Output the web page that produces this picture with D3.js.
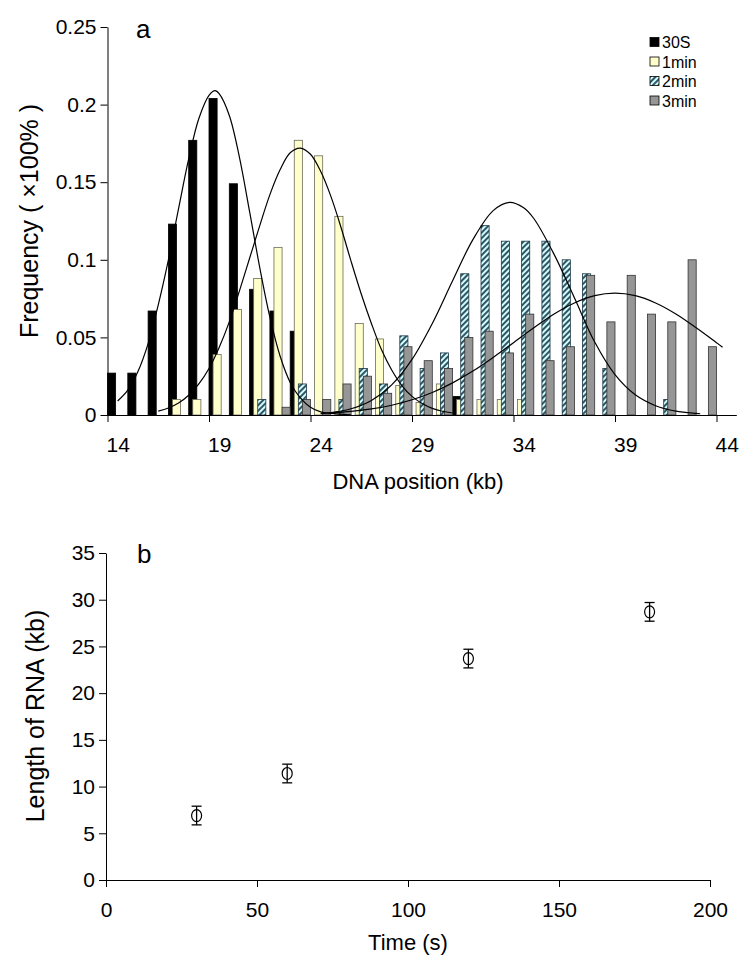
<!DOCTYPE html>
<html><head><meta charset="utf-8">
<script src="https://cdn.jsdelivr.net/npm/d3@7/dist/d3.min.js"></script>
<style>body{margin:0;background:#fff}</style>
</head><body>
<script>
// ---------- Panel a data ----------
const positions = [14,15,16,17,18,19,20,21,22,23,24,25,26,27,28,29,30,31,32,33,34,35,36,37,38,39,40,41,42,43,44];
const s30S = [0.027,0.027,0.067,0.123,0.177,0.204,0.149,0.081,0.067,0.054,0,0,0,0,0,0,0,0.012,0,0,0,0,0,0,0,0,0,0,0,0,0];
const s1min = [0,0,0,0.010,0.010,0.039,0.068,0.088,0.108,0.177,0.167,0.128,0.059,0.049,0.019,0.008,0.020,0.010,0.010,0.010,0.010,0,0,0,0,0,0,0,0,0,0];
const s2min = [0,0,0,0,0,0,0,0.010,0,0.020,0,0.010,0.030,0.020,0.051,0.030,0.040,0.091,0.122,0.112,0.112,0.112,0.100,0.091,0.030,0,0,0.010,0,0,0];
const s3min = [0,0,0,0,0,0,0,0,0.005,0.010,0.010,0.020,0.025,0.014,0.044,0.035,0.030,0.050,0.054,0.040,0.065,0.035,0.044,0.090,0.060,0.090,0.065,0.060,0.100,0.044,0];
const seriesNames = ["30S","1min","2min","3min"];
const xTicksA = [14,19,24,29,34,39,44];
const yTicksA = [0,0.05,0.1,0.15,0.2,0.25];

// fitted curves
const fit30S_x = [14.5,15,15.5,16,16.5,17,17.5,18,18.5,19,19.3,19.5,20,20.5,21,21.5,22,22.5,23,23.5,24,24.5,25,26];
const fit30S_y = [0.009,0.016,0.028,0.046,0.071,0.100,0.133,0.165,0.191,0.206,0.209,0.207,0.193,0.166,0.131,0.095,0.063,0.038,0.021,0.011,0.005,0.002,0.001,0.0];
const fit1_x = [16.5,17,17.5,18,18.5,19,19.5,20,20.5,21,21.5,22,22.5,23,23.5,24,24.5,25,25.5,26,26.5,27,27.5,28,28.5,29,29.5,30,30.5,31];
const fit1_y = [0.0025,0.0045,0.0077,0.0127,0.020,0.030,0.0435,0.060,0.080,0.101,0.122,0.142,0.158,0.169,0.172,0.168,0.157,0.141,0.121,0.099,0.078,0.059,0.042,0.029,0.019,0.012,0.0074,0.0043,0.0024,0.0013];
const fit2_x = [24.5,25,26,27,28,29,30,31,32,33,33.8,34.5,35,36,37,38,39,40,41,42,43,43.2];
const fit2_y = [0.0009,0.0015,0.004,0.0094,0.0194,0.0358,0.059,0.0865,0.113,0.1317,0.137,0.1335,0.1266,0.1035,0.0755,0.047,0.026,0.013,0.006,0.0025,0.001,0.0008];
const fit3_x = [25,26,27,28,29,30,31,32,33,34,35,36,37,38,39,40,41,42,43,44,44.3];
const fit3_y = [0.0013,0.0023,0.0039,0.0063,0.0098,0.0145,0.0207,0.0283,0.0371,0.0466,0.0562,0.0651,0.0722,0.0769,0.0785,0.0769,0.0722,0.0651,0.0562,0.0466,0.0437];

// ---------- Panel b data ----------
const times = [30,60,120,180];
const rnaLength = [6.9,11.4,23.7,28.7];
const rnaError = [1.0,1.0,1.0,1.0];
const xTicksB = [0,50,100,150,200];
const yTicksB = [0,5,10,15,20,25,30,35];

const W = 752, H = 966;
const FONT = "'Liberation Sans', Arial, sans-serif";
const svg = d3.select("body").append("svg").attr("width",W).attr("height",H)
  .style("font-family",FONT);

const defs = svg.append("defs");
const pat = defs.append("pattern").attr("id","hatch").attr("patternUnits","userSpaceOnUse")
  .attr("width",4).attr("height",4).attr("patternTransform","rotate(45)");
pat.append("rect").attr("width",4).attr("height",4).attr("fill","#ccffff");
pat.append("line").attr("x1",1).attr("y1",0).attr("x2",1).attr("y2",4)
  .attr("stroke","#1c3344").attr("stroke-width",1.7);

const fills = ["#000000","#ffffcc","url(#hatch)","#969696"];
const strokes = ["#000000","#6b6b5a","#1c3344","#333333"];

// ---------- Panel a ----------
const xBand = d3.scaleBand().domain(positions).range([107.5,736.8]).paddingInner(0).paddingOuter(0);
const xLin = d3.scaleLinear().domain([14,45]).range([107.5,736.8]);
const yA = d3.scaleLinear().domain([0,0.25]).range([415,27]);
const bw = xBand.bandwidth();
const allSeries = [s30S,s1min,s2min,s3min];

const gA = svg.append("g");
allSeries.forEach((ser,i)=>{
  gA.append("g").selectAll("rect").data(positions.map((p,j)=>({p,v:ser[j]})).filter(d=>d.v>0))
    .join("rect")
    .attr("x",d=>xBand(d.p)+i*bw*0.2)
    .attr("width",bw*0.4)
    .attr("y",d=>yA(d.v))
    .attr("height",d=>yA(0)-yA(d.v))
    .attr("fill",fills[i]).attr("stroke",strokes[i]).attr("stroke-width",0.8);
});

const line = d3.line().x(d=>xLin(d[0])).y(d=>yA(d[1])).curve(d3.curveCatmullRom);
[[fit30S_x,fit30S_y],[fit1_x,fit1_y],[fit2_x,fit2_y],[fit3_x,fit3_y]].forEach(([xs,ys])=>{
  gA.append("path").datum(xs.map((x,k)=>[x,ys[k]])).attr("d",line)
    .attr("fill","none").attr("stroke","#000").attr("stroke-width",1.2);
});

const axA_y = gA.append("g").attr("transform","translate(107.5,0)")
  .call(d3.axisLeft(yA).tickValues(yTicksA).tickSize(7).tickSizeOuter(0).tickFormat(d=>String(d)).tickPadding(4));
const axA_x = gA.append("g").attr("transform","translate(0,415)")
  .call(d3.axisBottom(xLin).tickValues(xTicksA).tickSize(7).tickSizeOuter(0).tickPadding(15));
axA_x.select(".domain").attr("d","M107.5,0.5H736.8");
axA_x.selectAll(".tick text").attr("x",bw/2);
[axA_y,axA_x].forEach(a=>{
  a.selectAll("text").style("font-size","21px").style("font-family",FONT).attr("fill","#000");
  a.selectAll("line,path").attr("stroke","#000");
});

gA.append("text").attr("x",136).attr("y",38).text("a").style("font-size","26px");
gA.append("text").attr("transform","translate(38,221) rotate(-90)").attr("text-anchor","middle")
  .text("Frequency ( \u00d7100% )").style("font-size","25px");
gA.append("text").attr("x",418).attr("y",489).attr("text-anchor","middle")
  .text("DNA position (kb)").style("font-size","22px");

// legend
const leg = gA.append("g").attr("transform","translate(650,42)");
seriesNames.forEach((n,i)=>{
  const r = leg.append("g").attr("transform",`translate(0,${i*19.5})`);
  r.append("rect").attr("x",0).attr("y",-4.5).attr("width",9).attr("height",9)
    .attr("fill",fills[i]).attr("stroke","#000").attr("stroke-width",0.8);
  r.append("text").attr("x",12).attr("y",6).text(n).style("font-size","16px");
});

// ---------- Panel b ----------
const xB = d3.scaleLinear().domain([0,200]).range([106,710]);
const yB = d3.scaleLinear().domain([0,35]).range([880,553]);
const gB = svg.append("g");
const axB_y = gB.append("g").attr("transform","translate(106,0)")
  .call(d3.axisLeft(yB).tickValues(yTicksB).tickSize(7).tickSizeOuter(0).tickPadding(4));
const axB_x = gB.append("g").attr("transform","translate(0,880)")
  .call(d3.axisBottom(xB).tickValues(xTicksB).tickSize(7).tickSizeOuter(0).tickPadding(15));
[axB_y,axB_x].forEach(a=>{
  a.selectAll("text").style("font-size","21px").style("font-family",FONT).attr("fill","#000");
  a.selectAll("line,path").attr("stroke","#000");
});

const pts = times.map((t,i)=>({t,v:rnaLength[i],e:rnaError[i]}));
const pg = gB.append("g").selectAll("g").data(pts).join("g");
pg.append("line").attr("x1",d=>xB(d.t)).attr("x2",d=>xB(d.t))
  .attr("y1",d=>yB(d.v-d.e)).attr("y2",d=>yB(d.v+d.e)).attr("stroke","#000").attr("stroke-width",1.3);
pg.append("line").attr("x1",d=>xB(d.t)-5).attr("x2",d=>xB(d.t)+5)
  .attr("y1",d=>yB(d.v+d.e)).attr("y2",d=>yB(d.v+d.e)).attr("stroke","#000").attr("stroke-width",1.3);
pg.append("line").attr("x1",d=>xB(d.t)-5).attr("x2",d=>xB(d.t)+5)
  .attr("y1",d=>yB(d.v-d.e)).attr("y2",d=>yB(d.v-d.e)).attr("stroke","#000").attr("stroke-width",1.3);
pg.append("ellipse").attr("cx",d=>xB(d.t)).attr("cy",d=>yB(d.v)).attr("rx",5).attr("ry",6)
  .attr("fill","none").attr("stroke","#000").attr("stroke-width",1.2);

gB.append("text").attr("x",137).attr("y",563).text("b").style("font-size","26px");
gB.append("text").attr("transform","translate(44,716) rotate(-90)").attr("text-anchor","middle")
  .text("Length of RNA (kb)").style("font-size","25px");
gB.append("text").attr("x",408).attr("y",950).attr("text-anchor","middle")
  .text("Time (s)").style("font-size","22px");
</script>
</body></html>
